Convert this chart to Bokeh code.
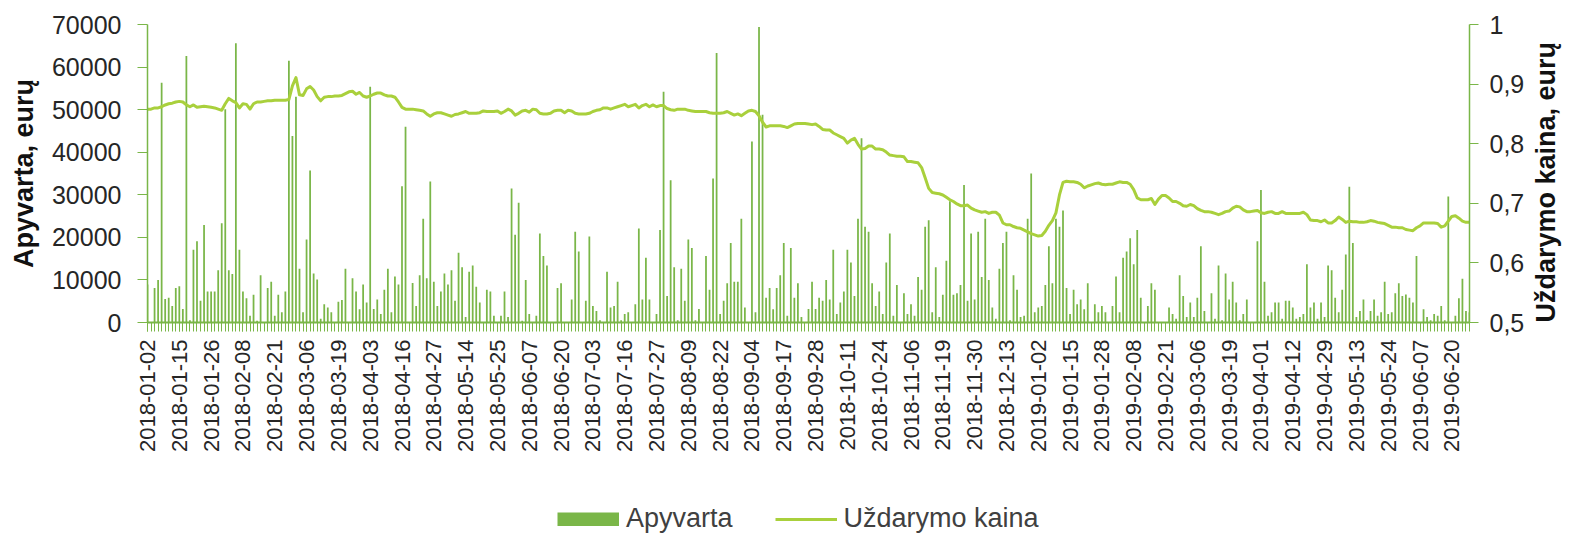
import math
from bokeh.plotting import figure
from bokeh.layouts import column
from bokeh.models import Range1d, LinearAxis, FixedTicker, Legend, LegendItem
from bokeh.embed import file_html
from bokeh.resources import INLINE

# ---------------- data ----------------
TICK_LABELS = [
    "2018-01-02", "2018-01-15", "2018-01-26", "2018-02-08", "2018-02-21", "2018-03-06",
    "2018-03-19", "2018-04-03", "2018-04-16", "2018-04-27", "2018-05-14", "2018-05-25",
    "2018-06-07", "2018-06-20", "2018-07-03", "2018-07-16", "2018-07-27", "2018-08-09",
    "2018-08-22", "2018-09-04", "2018-09-17", "2018-09-28", "2018-10-11", "2018-10-24",
    "2018-11-06", "2018-11-19", "2018-11-30", "2018-12-13", "2019-01-02", "2019-01-15",
    "2019-01-28", "2019-02-08", "2019-02-21", "2019-03-06", "2019-03-19", "2019-04-01",
    "2019-04-12", "2019-04-29", "2019-05-13", "2019-05-24", "2019-06-07", "2019-06-20",
]
LABEL_EVERY = 9

TURNOVER = [
    8900, 0, 8100, 10000, 56300, 5500, 5800, 3900, 8100, 8500,
    3200, 62600, 500, 17100, 19100, 5100, 22900, 7300, 7300, 7300,
    12300, 23300, 50100, 12300, 11400, 65600, 17100, 7300, 5700, 1600,
    6500, 400, 11100, 0, 8100, 9600, 1600, 6500, 2400, 7300,
    61500, 43800, 53000, 12600, 2400, 19500, 35700, 11500, 10100, 900,
    4300, 3500, 2400, 0, 4900, 5300, 12600, 0, 10400, 7300,
    3100, 8900, 4700, 55400, 3200, 5400, 2000, 7700, 12600, 2400,
    10800, 8900, 32000, 46000, 0, 9300, 3900, 11100, 24400, 10400,
    33100, 9600, 3900, 7300, 11500, 8900, 12300, 5100, 16400, 13000,
    1300, 11900, 13400, 8400, 4700, 0, 7700, 7300, 1600, 0,
    1600, 7300, 1300, 31500, 20600, 28100, 400, 10000, 2000, 0,
    1600, 20900, 15600, 13400, 0, 0, 8100, 9200, 0, 0,
    5400, 21300, 16700, 0, 5100, 20200, 3900, 2700, 500, 0,
    11900, 3500, 3900, 9600, 500, 2000, 2400, 0, 4300, 22100,
    5400, 15200, 5400, 0, 2000, 21700, 54200, 6200, 33400, 13000,
    500, 12600, 5100, 19500, 17500, 500, 3200, 0, 15600, 7700,
    33800, 63300, 2000, 5100, 9200, 18700, 9600, 9600, 24400, 3500,
    0, 42500, 2400, 69400, 48800, 5800, 8100, 3100, 8100, 11100,
    18700, 1600, 17500, 5800, 9200, 1300, 0, 3200, 9600, 3200,
    5800, 5100, 10000, 5400, 17100, 2000, 4700, 7300, 17100, 14100,
    6200, 24400, 43300, 22500, 21300, 9200, 3900, 7300, 2000, 14100,
    20900, 1600, 8800, 0, 6900, 2000, 4300, 1600, 10700, 7700,
    22500, 24000, 2400, 13000, 1300, 6500, 14500, 28500, 6500, 6900,
    8800, 32300, 5100, 20900, 5400, 21300, 10700, 24400, 10000, 3500,
    900, 12600, 18700, 21300, 500, 11100, 7700, 1300, 1600, 24400,
    35000, 2400, 3500, 3900, 8800, 17900, 9200, 24400, 22500, 26300,
    8100, 2000, 7700, 4300, 5400, 3100, 9200, 0, 4300, 2400,
    3900, 2400, 0, 3900, 10800, 2400, 15200, 16700, 19800, 13700,
    21700, 5800, 0, 3900, 9200, 7700, 0, 0, 0, 3500,
    2000, 900, 11100, 6200, 1300, 4700, 1300, 5800, 17900, 2700,
    0, 6900, 900, 13400, 500, 11500, 5400, 9600, 4700, 500,
    2000, 5400, 0, 0, 19100, 31100, 9600, 1600, 2400, 4700,
    4700, 900, 5100, 5100, 3500, 900, 1300, 2000, 13700, 3500,
    4700, 900, 4700, 1300, 13400, 12300, 5800, 2400, 7700, 16000,
    31900, 18700, 1300, 2700, 5400, 500, 2700, 5400, 1600, 2400,
    9600, 2000, 2400, 6900, 9200, 6200, 6600, 5800, 4700, 15600,
    0, 3100, 1300, 500, 2000, 1600, 3900, 500, 29600, 0,
    1600, 5700, 10300, 2700, 2400,
]

PRICE = [
    .858, .858, .860, .860, .862, .865, .867, .868, .870, .871,
    .870, .865, .862, .865, .861, .862, .863, .862, .861, .860,
    .858, .856, .867, .876, .872, .869, .860, .867, .866, .858,
    .867, .870, .870, .871, .872, .872, .873, .873, .873, .873,
    .874, .897, .911, .882, .881, .892, .896, .890, .879, .872,
    .878, .879, .879, .880, .880, .881, .884, .887, .888, .883,
    .886, .880, .878, .880, .883, .885, .885, .882, .880, .880,
    .878, .870, .861, .858, .858, .858, .857, .856, .855, .850,
    .846, .850, .852, .852, .850, .848, .846, .849, .850, .852,
    .854, .851, .851, .851, .852, .855, .854, .854, .854, .855,
    .851, .854, .858, .855, .848, .851, .855, .856, .853, .858,
    .857, .851, .850, .850, .851, .855, .856, .856, .852, .856,
    .855, .851, .850, .850, .850, .851, .854, .856, .857, .860,
    .860, .858, .860, .862, .864, .866, .862, .864, .866, .860,
    .864, .866, .862, .865, .862, .864, .864, .859, .857, .856,
    .858, .858, .858, .856, .855, .854, .854, .854, .854, .852,
    .851, .851, .851, .852, .854, .851, .848, .850, .847, .851,
    .855, .856, .854, .847, .836, .828, .830, .830, .830, .830,
    .829, .827, .830, .833, .834, .834, .834, .833, .832, .833,
    .829, .824, .823, .823, .818, .815, .812, .809, .801, .806,
    .809, .799, .791, .792, .796, .796, .791, .791, .790, .786,
    .781, .780, .779, .779, .778, .770, .770, .769, .768, .760,
    .743, .725, .718, .717, .716, .714, .710, .706, .703, .699,
    .696, .696, .697, .692, .689, .687, .685, .686, .683, .685,
    .685, .680, .667, .664, .664, .661, .659, .658, .655, .652,
    .649, .647, .645, .646, .653, .663, .671, .684, .714, .735,
    .737, .736, .736, .735, .732, .726, .729, .731, .733, .734,
    .732, .731, .732, .732, .734, .736, .735, .735, .732, .723,
    .709, .706, .706, .706, .708, .698, .707, .713, .713, .709,
    .703, .703, .700, .696, .695, .698, .696, .691, .688, .686,
    .686, .685, .683, .681, .683, .686, .687, .692, .695, .694,
    .689, .686, .686, .687, .688, .684, .683, .685, .686, .683,
    .683, .686, .683, .683, .683, .683, .683, .685, .681, .672,
    .671, .671, .669, .672, .667, .667, .671, .677, .673, .668,
    .670, .669, .669, .668, .668, .669, .671, .670, .668, .667,
    .666, .663, .660, .660, .659, .659, .656, .655, .654, .659,
    .662, .667, .667, .667, .667, .666, .660, .662, .670, .678,
    .679, .675, .670, .668, .668,
]

LEFT_TICKS = [0, 10000, 20000, 30000, 40000, 50000, 60000, 70000]
RIGHT_TICKS = [0.5, 0.6, 0.7, 0.8, 0.9, 1.0]
RIGHT_TICK_LABELS = ["0,5", "0,6", "0,7", "0,8", "0,9", "1"]

SERIES_BAR = "Apyvarta"
SERIES_LINE = "Uždarymo kaina"
LEFT_TITLE = "Apyvarta, eurų"
RIGHT_TITLE = "Uždarymo kaina, eurų"

# ---------------- style ----------------
GREEN = "#7AB648"
LINE_GREEN = "#A9D03C"
TICK_TEXT = "#262626"
TITLE_TEXT = "#111111"
FONT = "Liberation Sans"
W = 1579
H_MAIN = 490
H_LEG = 44

n = len(TURNOVER)
idx = list(range(n))

p = figure(width=W, height=H_MAIN, output_backend="svg", toolbar_location=None,
           x_range=Range1d(0, n - 1), y_range=Range1d(0, 70000),
           min_border_left=147, min_border_right=105, min_border_top=24,
           min_border_bottom=168)
p.extra_y_ranges = {"price": Range1d(0.5, 1.0)}
p.outline_line_color = None
p.grid.visible = False
p.background_fill_color = "white"
p.border_fill_color = "white"

# x axis
xa = p.xaxis[0]
major = [LABEL_EVERY * k for k in range(len(TICK_LABELS))]
xa.ticker = FixedTicker(ticks=major, minor_ticks=idx)
xa.major_label_overrides = {t: lab for t, lab in zip(major, TICK_LABELS)}
xa.major_label_orientation = math.pi / 2
xa.axis_line_color = GREEN
xa.axis_line_width = 2
xa.major_tick_line_color = GREEN
xa.minor_tick_line_color = GREEN
xa.major_tick_out = 9
xa.major_tick_in = 0
xa.minor_tick_out = 9
xa.minor_tick_in = 0
xa.major_label_standoff = 8
xa.major_label_text_font = FONT
xa.major_label_text_font_size = "22px"
xa.major_label_text_color = TICK_TEXT

# left axis
ya = p.yaxis[0]
ya.ticker = FixedTicker(ticks=LEFT_TICKS, minor_ticks=[])
ya.major_label_overrides = {t: str(t) for t in LEFT_TICKS}
ya.axis_line_color = GREEN
ya.axis_line_width = 1.5
ya.major_tick_line_color = GREEN
ya.major_tick_out = 10
ya.major_tick_in = 0
ya.major_label_standoff = 16
ya.major_label_text_font = FONT
ya.major_label_text_font_size = "25px"
ya.major_label_text_color = TICK_TEXT
ya.axis_label = LEFT_TITLE
ya.axis_label_standoff = 10
ya.axis_label_text_font = FONT
ya.axis_label_text_font_size = "27px"
ya.axis_label_text_font_style = "bold"
ya.axis_label_text_color = TITLE_TEXT

# right axis
ra = LinearAxis(y_range_name="price",
                ticker=FixedTicker(ticks=RIGHT_TICKS, minor_ticks=[]),
                major_label_overrides={t: l for t, l in zip(RIGHT_TICKS, RIGHT_TICK_LABELS)})
ra.axis_line_color = GREEN
ra.axis_line_width = 1.5
ra.major_tick_line_color = GREEN
ra.major_tick_out = 9
ra.major_tick_in = 0
ra.major_label_standoff = 11
ra.major_label_text_font = FONT
ra.major_label_text_font_size = "25px"
ra.major_label_text_color = TICK_TEXT
ra.axis_label = RIGHT_TITLE
ra.axis_label_standoff = 19
ra.axis_label_text_font = FONT
ra.axis_label_text_font_size = "27px"
ra.axis_label_text_font_style = "bold"
ra.axis_label_text_color = TITLE_TEXT
if "axis_label_orientation" in ra.properties():
    ra.axis_label_orientation = math.pi / 2
if "axis_label_align" in ra.properties():
    ra.axis_label_align = "start"
p.add_layout(ra, "right")

# marks
r_bar = p.vbar(x=idx, top=TURNOVER, width=0.5, bottom=0,
               fill_color=GREEN, line_color=None)
r_line = p.line(x=idx, y=PRICE, y_range_name="price",
                line_color=LINE_GREEN, line_width=3, line_join="round")

# ---------------- legend strip ----------------
# its ranges keep the proxy renderers (carrying the same data) out of view
q = figure(width=W, height=H_LEG, output_backend="svg", toolbar_location=None,
           x_range=Range1d(-20, -10), y_range=Range1d(-20, -10),
           x_axis_type=None, y_axis_type=None,
           min_border_left=0, min_border_right=0, min_border_top=0, min_border_bottom=0)
q.outline_line_color = None
q.grid.visible = False
q.background_fill_color = "white"
q.border_fill_color = "white"
sw_bar = q.line(x=idx, y=TURNOVER, line_color=GREEN, line_width=14, line_cap="butt")
sw_line = q.line(x=idx, y=PRICE, line_color=LINE_GREEN, line_width=3)

legend = Legend(items=[LegendItem(label=SERIES_BAR, renderers=[sw_bar]),
                       LegendItem(label=SERIES_LINE, renderers=[sw_line])],
                orientation="horizontal", location=(410, 0),
                glyph_width=62, glyph_height=14, label_standoff=7, spacing=42,
                padding=0, margin=0, border_line_color=None,
                background_fill_alpha=0, label_height=30,
                label_text_font=FONT, label_text_font_size="27px",
                label_text_color="#404040")
q.add_layout(legend)

layout = column(p, q, spacing=0)
open("out.html", "w").write(file_html(layout, INLINE))
